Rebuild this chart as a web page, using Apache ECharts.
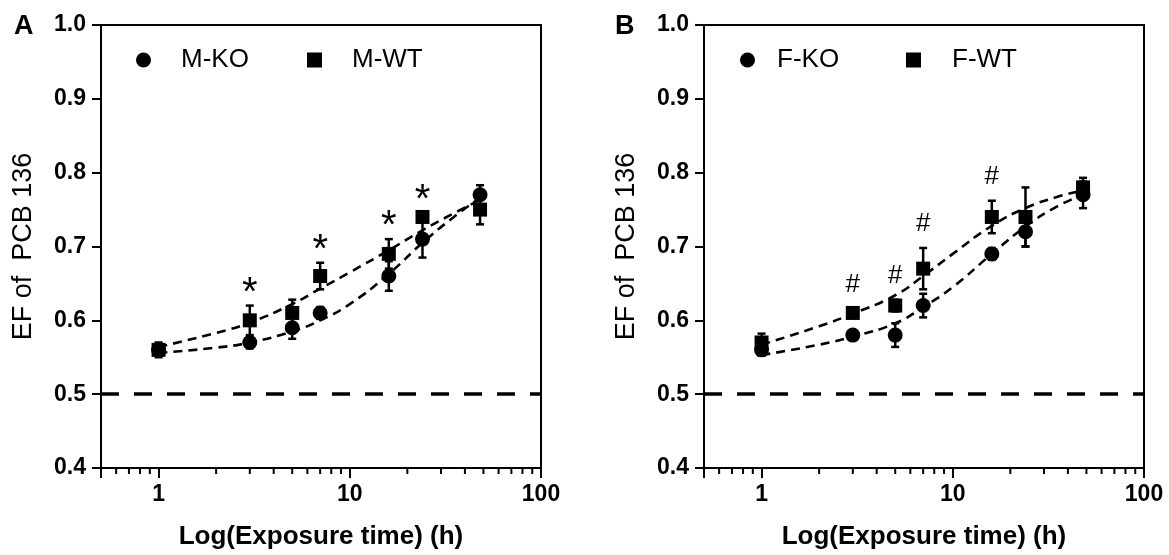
<!DOCTYPE html>
<html><head><meta charset="utf-8">
<script src="https://cdn.jsdelivr.net/npm/echarts@6/dist/echarts.min.js"></script>
<style>html,body{margin:0;padding:0;background:#fff}#c{width:1169px;height:555px}</style>
</head><body><div id="c"></div>
<script>
// ---- data ----
const hours = [1, 3, 5, 7, 16, 24, 48];
const mKO = [0.56, 0.57, 0.59, 0.61, 0.66, 0.71, 0.77];
const mKOErr = [0.008, 0.008, 0.015, 0.008, 0.02, 0.025, 0.013];
const mWT = [0.56, 0.60, 0.61, 0.66, 0.69, 0.74, 0.75];
const mWTErr = [0.01, 0.02, 0.018, 0.018, 0.02, 0.005, 0.02];
const fKO = [0.56, 0.58, 0.58, 0.62, 0.69, 0.72, 0.77];
const fKOErr = [0.008, 0.005, 0.016, 0.016, 0.008, 0.02, 0.018];
const fWT = [0.57, 0.61, 0.62, 0.67, 0.74, 0.74, 0.78];
const fWTErr = [0.012, 0.005, 0.008, 0.028, 0.022, 0.04, 0.013];
const fitHours = [1, 2, 3, 5, 7, 10, 16, 24, 35, 48];
const mKOFit = [0.556, 0.563, 0.570, 0.585, 0.600, 0.622, 0.663, 0.705, 0.740, 0.766];
const mWTFit = [0.564, 0.583, 0.597, 0.622, 0.643, 0.665, 0.695, 0.722, 0.745, 0.763];
const fKOFit = [0.553, 0.567, 0.578, 0.596, 0.618, 0.645, 0.690, 0.727, 0.754, 0.770];
const fWTFit = [0.567, 0.592, 0.609, 0.634, 0.660, 0.690, 0.728, 0.752, 0.767, 0.776];
const starHours = [3, 7, 16, 24];
const hashHours = [3, 5, 7, 16];
const chanceEF = 0.5;
const minorTicks = [0.6, 0.7, 0.8, 0.9, 2, 3, 4, 5, 6, 7, 8, 9, 20, 30, 40, 50, 60, 70, 80, 90];
const yTitle = 'EF of  PCB 136';
const xTitle = 'Log(Exposure time) (h)';

// ---- chart ----
const FONT = 'Liberation Sans, Arial, sans-serif';
const BLACK = '#000';
const chart = echarts.init(document.getElementById('c'), null, {renderer: 'canvas'});

const pairs = (xs, ys) => xs.map((x, i) => [x, ys[i]]);
const triples = (xs, ys, es) => xs.map((x, i) => [x, ys[i], es[i]]);

function errorBarRender(params, api) {
  const x = api.value(0), m = api.value(1), e = api.value(2);
  const lo = api.coord([x, m - e]), hi = api.coord([x, m + e]);
  const w = 4;
  const st = {stroke: BLACK, lineWidth: 2.5};
  return {type: 'group', children: [
    {type: 'line', shape: {x1: lo[0], y1: lo[1], x2: hi[0], y2: hi[1]}, style: st},
    {type: 'line', shape: {x1: lo[0] - w, y1: lo[1], x2: lo[0] + w, y2: lo[1]}, style: st},
    {type: 'line', shape: {x1: hi[0] - w, y1: hi[1], x2: hi[0] + w, y2: hi[1]}, style: st}
  ]};
}
function minorTickRender(params, api) {
  const p = api.coord([api.value(0), 0.4]);
  return {type: 'line', shape: {x1: p[0], y1: p[1], x2: p[0], y2: p[1] + 6}, style: {stroke: BLACK, lineWidth: 2}};
}
function markRender(sym, size, lift) {
  return function (params, api) {
    const p = api.coord([api.value(0), api.value(1)]);
    return {type: 'text', x: p[0], y: p[1] - lift, style: {
      text: sym, fill: BLACK, fontSize: size, fontFamily: FONT, align: 'center', verticalAlign: 'middle'}};
  };
}
function sigData(hs, means, errs) {
  return hs.map(h => { const i = hours.indexOf(h); return [h, means[i] + errs[i]]; });
}

function panelSeries(g, names, ko, koErr, wt, wtErr, koFit, wtFit, sigHours, sym, symSize, lift) {
  const fitStyle = {color: BLACK, width: 2.6, type: [9, 6]};
  return [
    {type: 'line', xAxisIndex: g, yAxisIndex: g, data: pairs(fitHours, wtFit), smooth: true, symbol: 'none',
     lineStyle: fitStyle, z: 2, silent: true,
     markLine: {silent: true, symbol: 'none', label: {show: false},
       lineStyle: {color: BLACK, width: 3.5, type: [18, 15]}, data: [{yAxis: chanceEF}]}},
    {type: 'line', xAxisIndex: g, yAxisIndex: g, data: pairs(fitHours, koFit), smooth: true, symbol: 'none',
     lineStyle: fitStyle, z: 2, silent: true},
    {type: 'custom', xAxisIndex: g, yAxisIndex: g, data: triples(hours, ko, koErr), renderItem: errorBarRender, z: 3},
    {type: 'custom', xAxisIndex: g, yAxisIndex: g, data: triples(hours, wt, wtErr), renderItem: errorBarRender, z: 3},
    {name: names[0], type: 'scatter', xAxisIndex: g, yAxisIndex: g, data: pairs(hours, ko), symbol: 'circle',
     symbolSize: 15, itemStyle: {color: BLACK, opacity: 1}, z: 4},
    {name: names[1], type: 'scatter', xAxisIndex: g, yAxisIndex: g, data: pairs(hours, wt), symbol: 'rect',
     symbolSize: 14, itemStyle: {color: BLACK, opacity: 1}, z: 4},
    {type: 'custom', xAxisIndex: g, yAxisIndex: g, data: sigData(sigHours, wt, wtErr),
     renderItem: markRender(sym, symSize, lift), clip: false, z: 5},
    {type: 'custom', xAxisIndex: g, yAxisIndex: g, data: minorTicks.map(v => [v, 0.4]),
     renderItem: minorTickRender, clip: false, z: 5}
  ];
}

const grids = [
  {left: 101, top: 25, width: 440, height: 443},
  {left: 704, top: 25, width: 440, height: 443}
];
function xAxis(g) {
  return {type: 'log', gridIndex: g, logBase: 10, min: 0.5, max: 100,
    name: xTitle, nameLocation: 'middle', nameGap: 56,
    nameTextStyle: {fontFamily: FONT, fontSize: 26, fontWeight: 'bold', color: BLACK},
    axisLine: {show: true, onZero: false, lineStyle: {color: BLACK, width: 2}},
    axisTick: {show: true, length: 10, lineStyle: {color: BLACK, width: 2}},
    minorTick: {show: false}, splitLine: {show: false},
    axisLabel: {fontFamily: FONT, fontSize: 23, fontWeight: 'bold', color: BLACK, margin: 15,
      formatter: v => (v >= 0.99 ? String(Math.round(v)) : '')}};
}
function yAxis(g) {
  return {type: 'value', gridIndex: g, min: 0.4, max: 1.0, interval: 0.1,
    name: yTitle, nameLocation: 'middle', nameGap: 64, nameRotate: 90,
    nameTextStyle: {fontFamily: FONT, fontSize: 27, color: BLACK},
    axisLine: {show: true, onZero: false, lineStyle: {color: BLACK, width: 2}},
    axisTick: {show: true, length: 9, lineStyle: {color: BLACK, width: 2}},
    splitLine: {show: false},
    axisLabel: {fontFamily: FONT, fontSize: 23, fontWeight: 'bold', color: BLACK, margin: 15,
      formatter: v => v.toFixed(1)}};
}
function legend(name, icon, left, pad) {
  return {data: [{name: name, icon: icon, itemStyle: {color: BLACK, opacity: 1}}], left: left, top: 47, padding: 0,
    itemWidth: 15, itemHeight: 15, selectedMode: false,
    textStyle: {fontFamily: FONT, fontSize: 26, color: BLACK, padding: [0, 0, 0, pad]}};
}

const option = {
  backgroundColor: '#fff',
  animation: false,
  title: [
    {text: 'A', left: 14, top: 13, padding: 0, textStyle: {fontFamily: FONT, fontSize: 27, fontWeight: 'bold', color: BLACK}},
    {text: 'B', left: 615, top: 13, padding: 0, textStyle: {fontFamily: FONT, fontSize: 27, fontWeight: 'bold', color: BLACK}}
  ],
  legend: [
    legend('M-KO', 'circle', 136, 25),
    legend('M-WT', 'rect', 307, 25),
    legend('F-KO', 'circle', 740, 17),
    legend('F-WT', 'rect', 906, 26)
  ],
  grid: grids.map(g => Object.assign({show: true, borderColor: BLACK, borderWidth: 2,
    backgroundColor: 'transparent', containLabel: false, outerBoundsMode: 'none'}, g)),
  xAxis: [xAxis(0), xAxis(1)],
  yAxis: [yAxis(0), yAxis(1)],
  series: [].concat(
    panelSeries(0, ['M-KO', 'M-WT'], mKO, mKOErr, mWT, mWTErr, mKOFit, mWTFit, starHours, '*', 40, 12),
    panelSeries(1, ['F-KO', 'F-WT'], fKO, fKOErr, fWT, fWTErr, fKOFit, fWTFit, hashHours, '#', 26, 24)
  )
};
chart.setOption(option);
</script></body></html>
